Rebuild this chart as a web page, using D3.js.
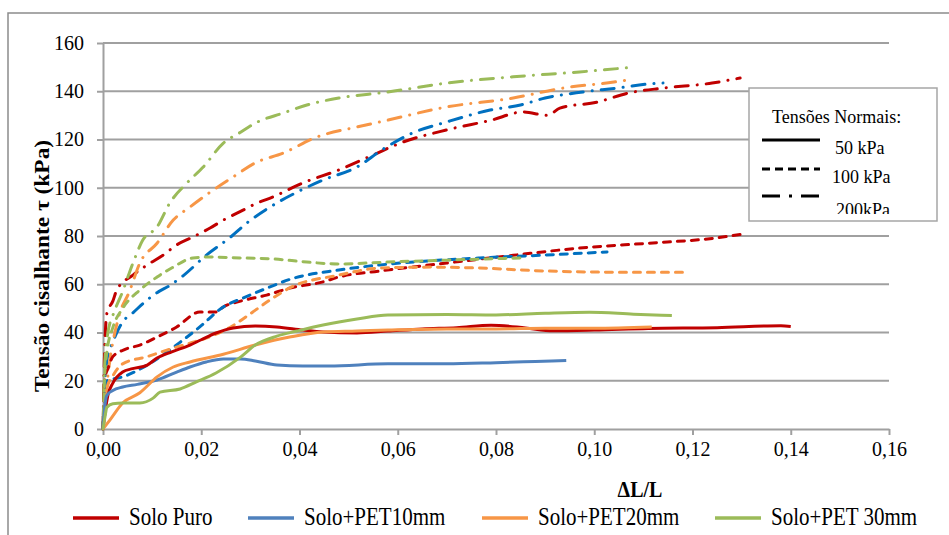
<!DOCTYPE html>
<html><head><meta charset="utf-8">
<script src="https://cdn.jsdelivr.net/npm/d3@7/dist/d3.min.js"></script>
<style>
html,body{margin:0;padding:0;background:#fff;}
svg text{font-family:"Liberation Serif","Times New Roman",serif !important;}
</style></head>
<body><svg id="c" width="949" height="535"></svg>
<script>
// ---- data: [ΔL/L, τ (kPa)] ----
const puro50 = [[0,0],[0.0005,8],[0.001,14],[0.002,19],[0.004,23.6],[0.006,25],[0.009,26.5],[0.011,29.4],[0.014,32],[0.0177,34.8],[0.02,37],[0.023,39.8],[0.0265,41.9],[0.031,42.7],[0.0354,42.3],[0.0407,41],[0.0448,40.2],[0.0517,39.8],[0.058,40.6],[0.065,41.5],[0.072,42],[0.079,43],[0.086,41.9],[0.0916,40.7],[0.1,41],[0.111,41.7],[0.125,42],[0.138,42.8],[0.14,42.5]];
const pet10_50 = [[0,0],[0.0003,8],[0.0008,14],[0.002,16],[0.004,17.4],[0.007,18.5],[0.011,20.3],[0.015,23.6],[0.0177,25.7],[0.021,27.8],[0.0245,29],[0.028,29],[0.031,28.2],[0.0354,26.5],[0.0407,26.1],[0.046,26.1],[0.058,27],[0.07,27],[0.08,27.5],[0.088,28],[0.0943,28.4]];
const pet20_50 = [[0,0],[0.0014,3.7],[0.004,10.8],[0.0075,15],[0.011,21.6],[0.0143,25.7],[0.0177,27.8],[0.0245,31],[0.031,34.8],[0.038,38.1],[0.0448,40.2],[0.0517,40.6],[0.058,41],[0.07,41.5],[0.08,41.5],[0.09,41.8],[0.1,41.8],[0.1117,42.3]];
const pet30_50 = [[0,0],[0.0004,5],[0.0008,9],[0.002,10.5],[0.004,10.8],[0.0075,10.8],[0.0102,12.8],[0.0116,15.3],[0.0157,16.6],[0.019,19.5],[0.023,23.2],[0.028,29.8],[0.031,34.8],[0.0354,38.5],[0.0395,40.6],[0.0448,43.1],[0.0517,45.6],[0.058,47.3],[0.07,47.5],[0.08,47.3],[0.09,48],[0.099,48.4],[0.108,47.6],[0.1158,47]];

const puro100 = [[0,0],[0.0002,15],[0.0005,22],[0.001,25],[0.002,30],[0.0045,33],[0.0075,34.8],[0.011,38.1],[0.015,42.3],[0.0197,48.5],[0.023,48.5],[0.0245,50.6],[0.028,53],[0.0333,55.5],[0.038,58.4],[0.0448,61],[0.048,63],[0.0564,65.5],[0.07,68.8],[0.0835,72],[0.097,75],[0.111,77],[0.124,79],[0.131,81]];
const pet10_100 = [[0,0],[0.0003,12],[0.0008,20],[0.004,21.6],[0.009,26.5],[0.0122,30.7],[0.0163,36.9],[0.0197,42.3],[0.0245,50.6],[0.0285,54.3],[0.034,58.9],[0.038,62],[0.048,65.9],[0.0564,68],[0.0767,70.9],[0.09,72.1],[0.1026,73.4]];
const pet20_100 = [[0,0],[0.0005,10],[0.0008,17],[0.002,22],[0.004,27],[0.009,30],[0.013,32.7],[0.0177,35.6],[0.021,37.7],[0.026,42.3],[0.0305,48.5],[0.034,53.5],[0.038,58.5],[0.048,63.8],[0.0564,66.7],[0.0666,67.1],[0.0767,66.7],[0.09,65.5],[0.104,65],[0.119,65]];
const pet30_100 = [[0,0],[0.0003,20],[0.0008,32],[0.002,42],[0.004,50],[0.0075,57.6],[0.011,63],[0.0143,67.1],[0.0183,70.9],[0.0218,71.3],[0.028,70.9],[0.0346,70.5],[0.0415,69.2],[0.048,68.4],[0.058,69.2],[0.07,70],[0.085,70.9]];

const puro200 = [[0,0],[0.0003,30],[0.0008,48],[0.002,53],[0.0028,57.6],[0.0061,63.8],[0.009,68],[0.0122,72],[0.015,76.3],[0.0183,79.6],[0.0218,83.3],[0.0245,86.6],[0.0285,90.7],[0.031,93.3],[0.0346,96.2],[0.0407,102],[0.048,107.4],[0.055,113.6],[0.0605,118.5],[0.07,124],[0.079,128],[0.0855,131.4],[0.0905,130],[0.093,133],[0.1006,135.5],[0.107,139.3],[0.114,141.3],[0.124,143.4],[0.1297,145.5]];
const pet10_200 = [[0,0],[0.0003,15],[0.0008,28.6],[0.002,36],[0.004,44.4],[0.006,48],[0.009,53.5],[0.011,56.5],[0.0136,59.5],[0.0163,63.5],[0.021,72],[0.026,79.6],[0.0293,85.4],[0.034,92],[0.0395,98.2],[0.0448,103.2],[0.0517,108.6],[0.057,116],[0.063,122.7],[0.07,127.3],[0.0788,132.2],[0.085,134.3],[0.09,137.2],[0.0977,139.7],[0.1046,141.3],[0.111,143],[0.114,143.4]];
const pet20_200 = [[0,0],[0.0005,12],[0.001,22],[0.003,45],[0.0055,57.6],[0.0075,68.8],[0.011,77],[0.0143,86.6],[0.0177,92],[0.0224,99],[0.0265,104.5],[0.031,110.3],[0.0367,114.4],[0.0435,121],[0.0517,125.2],[0.0564,127.3],[0.07,133.5],[0.0835,137.2],[0.0936,141.3],[0.104,143.8],[0.107,144.7]];
const pet30_200 = [[0,0],[0.0003,25],[0.001,40],[0.002,47],[0.004,57],[0.0061,68.8],[0.0081,78.3],[0.011,83.7],[0.0136,93.7],[0.0171,102],[0.0204,108.6],[0.0245,118.5],[0.028,123],[0.031,126.8],[0.0367,131],[0.0415,134.3],[0.048,137.2],[0.058,139.7],[0.07,143.4],[0.0835,146],[0.097,148],[0.108,150]];

const xTicks = [0,0.02,0.04,0.06,0.08,0.10,0.12,0.14,0.16];
const yTicks = [0,20,40,60,80,100,120,140,160];
const seriesNames = ["Solo Puro","Solo+PET10mm","Solo+PET20mm","Solo+PET 30mm"];
const stressNames = ["50 kPa","100 kPa","200kPa"];

// ---- styles ----
const FONT = "'Liberation Serif','Times New Roman',serif";
const colSolid = {"Solo Puro":"#C00000","Solo+PET10mm":"#4F81BD","Solo+PET20mm":"#F79646","Solo+PET 30mm":"#9BBB59"};
const colDash  = {"Solo Puro":"#C00000","Solo+PET10mm":"#0070C0","Solo+PET20mm":"#F79646","Solo+PET 30mm":"#9BBB59"};
const dashes = ["none","7 7","13 9 0.1 9"];

const svg = d3.select("#c");
const x = d3.scaleLinear().domain([0,0.16]).range([103,889]);
const y = d3.scaleLinear().domain([0,160]).range([429,43]);

// outer chart border
svg.append("path").attr("d","M8,540 L8,13 L955,13").attr("fill","none").attr("stroke","#8c8c8c").attr("stroke-width",1.5);

// gridlines
svg.append("g").selectAll("line").data(yTicks.slice(1)).join("line")
  .attr("x1",x(0)).attr("x2",x(0.16)).attr("y1",d=>y(d)).attr("y2",d=>y(d))
  .attr("stroke","#a0a0a0").attr("stroke-width",2);

// axes
const fmtX = d=>d3.format(".2f")(d).replace(".",",");
const gx = svg.append("g").attr("transform",`translate(0,${y(0)})`)
  .call(d3.axisBottom(x).tickValues(xTicks).tickFormat(fmtX).tickSize(6).tickSizeOuter(0).tickPadding(7));
const gy = svg.append("g").attr("transform",`translate(${x(0)},0)`)
  .call(d3.axisLeft(y).tickValues(yTicks).tickSize(6).tickSizeOuter(0).tickPadding(13));
[gx,gy].forEach(g=>{
  g.attr("font-family",FONT);
  g.select(".domain").attr("stroke","#a0a0a0").attr("stroke-width",2);
  g.selectAll(".tick line").attr("stroke","#a0a0a0").attr("stroke-width",2);
  g.selectAll(".tick text").style("font-family",FONT).attr("font-size",20).attr("fill","#000");
});

// series
const line = d3.line().x(d=>x(d[0])).y(d=>y(d[1])).curve(d3.curveMonotoneX);
const groups = [
  {name:"Solo Puro", data:[puro50,puro100,puro200]},
  {name:"Solo+PET10mm", data:[pet10_50,pet10_100,pet10_200]},
  {name:"Solo+PET20mm", data:[pet20_50,pet20_100,pet20_200]},
  {name:"Solo+PET 30mm", data:[pet30_50,pet30_100,pet30_200]}
];
const plot = svg.append("g");
[2,1,0].forEach(k=>{
  groups.forEach(g=>{
    plot.append("path").datum(g.data[k]).attr("d",line)
      .attr("fill","none")
      .attr("stroke", k===0 ? colSolid[g.name] : colDash[g.name])
      .attr("stroke-width",3)
      .attr("stroke-linecap", k===0 ? "butt" : "round")
      .attr("stroke-dasharray", dashes[k]);
  });
});

// stress legend box
svg.append("defs").append("clipPath").attr("id","lgclip")
  .append("rect").attr("x",749).attr("y",88).attr("width",188).attr("height",126);
svg.append("rect").attr("x",749).attr("y",88).attr("width",188).attr("height",133)
  .attr("fill","#fff").attr("stroke","#a6a6a6").attr("stroke-width",1.5);
const lg = svg.append("g").attr("clip-path","url(#lgclip)");
lg.append("text").attr("x",772).attr("y",123).attr("font-size",18).style("font-family",FONT).text("Tensões Normais:");
const lgRows = [{ly:140,ty:154,tx:835},{ly:169,ty:183,tx:832},{ly:196,ty:216,tx:836}];
stressNames.forEach((s,i)=>{
  lg.append("line").attr("x1",762).attr("x2",820).attr("y1",lgRows[i].ly).attr("y2",lgRows[i].ly)
    .attr("stroke","#000").attr("stroke-width",3)
    .attr("stroke-dasharray", i===0?"none":(i===1?"8 5":"18 9 3 9"));
  lg.append("text").attr("x",lgRows[i].tx).attr("y",lgRows[i].ty).attr("font-size",18).style("font-family",FONT).text(s);
});

// axis titles
svg.append("text").attr("transform","translate(640,497) scale(1,1.15)").attr("text-anchor","middle")
  .attr("font-size",20).attr("font-weight","bold").style("font-family",FONT).text("ΔL/L");
svg.append("text").attr("transform","translate(49,266) rotate(-90) scale(1.17,1)").attr("text-anchor","middle")
  .attr("font-size",20).attr("font-weight","bold").style("font-family",FONT).text("Tensão cisalhante τ (kPa)");

// series legend
const legX = [73,248,482,715];
seriesNames.forEach((n,i)=>{
  svg.append("line").attr("x1",legX[i]).attr("x2",legX[i]+46).attr("y1",518).attr("y2",518)
    .attr("stroke",colSolid[n]).attr("stroke-width",3.5);
  svg.append("text").attr("transform",`translate(${legX[i]+56},525) scale(1,1.2)`).attr("font-size",21)
    .style("font-family",FONT).text(n);
});
</script></body></html>
